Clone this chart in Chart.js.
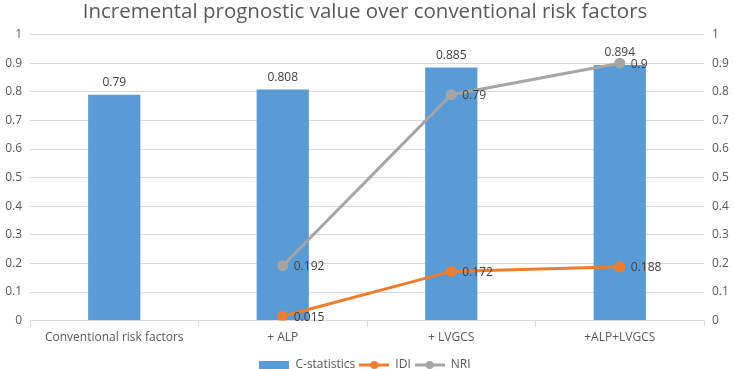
<!DOCTYPE html>
<html>
<head>
<meta charset="utf-8">
<script src="https://cdn.jsdelivr.net/npm/chart.js@4"></script>
<style>
  body { margin: 0; background: #fff; }
  #wrap { width: 734px; height: 369px; }
</style>
</head>
<body>
<div id="wrap"><canvas id="grafico"></canvas></div>
<script>
const categorias = ['Conventional risk factors', '+ ALP', '+ LVGCS', '+ALP+LVGCS'];
const cStatistics = [0.79, 0.808, 0.885, 0.894];
const idi = [null, 0.015, 0.172, 0.188];
const nri = [null, 0.192, 0.79, 0.9];

const azul = '#5b9bd5';
const laranja = '#ed7d31';
const cinza = '#a5a5a5';
const textoCor = '#595959';
const fonte = '"Open Sans", "Noto Sans", sans-serif';

// little legend icons
function icone(cor, tipo) {
    const c = document.createElement('canvas');
    c.width = 30; c.height = 10;
    const g = c.getContext('2d');
    if (tipo === 'bar') {
        g.fillStyle = cor;
        g.fillRect(0, 1, 30, 8);
    } else {
        g.strokeStyle = cor;
        g.lineWidth = 3;
        g.beginPath(); g.moveTo(0, 5); g.lineTo(30, 5); g.stroke();
        g.fillStyle = cor;
        g.beginPath(); g.arc(15, 5, 4, 0, Math.PI * 2); g.fill();
    }
    return c;
}

const rotulos = {
    id: 'rotulos',
    beforeDraw(chart) {
        // push the legend a bit further down
        if (chart.legend && !chart.legend._movido) {
            chart.legend.top += 6;
            chart.legend.bottom += 6;
            chart.legend._movido = true;
        }
    },
    afterDatasetsDraw(chart) {
        const ctx = chart.ctx;
        ctx.save();
        ctx.font = '12px ' + fonte;
        ctx.fillStyle = '#404040';
        chart.data.datasets.forEach((ds, i) => {
            const meta = chart.getDatasetMeta(i);
            meta.data.forEach((el, j) => {
                const v = ds.data[j];
                if (v === null) return;
                if (ds.type === 'line') {
                    ctx.textAlign = 'left';
                    ctx.textBaseline = 'middle';
                    ctx.fillText(String(v), el.x + 11, el.y + 1);
                } else {
                    ctx.textAlign = 'center';
                    ctx.textBaseline = 'bottom';
                    ctx.fillText(String(v), el.x, el.y - 6);
                }
            });
        });
        ctx.restore();
    }
};

const fmt = v => String(Number(v.toFixed(1)));

const ctx = document.getElementById('grafico');

new Chart(ctx, {
    data: {
        labels: categorias,
        datasets: [{
            type: 'bar',
            label: 'C-statistics',
            data: cStatistics,
            yAxisID: 'y',
            backgroundColor: azul,
            categoryPercentage: 1,
            barPercentage: 0.31,
            order: 3
        }, {
            type: 'line',
            label: 'IDI',
            data: idi,
            yAxisID: 'y1',
            borderColor: laranja,
            backgroundColor: laranja,
            borderWidth: 3,
            pointRadius: 4,
            pointHoverRadius: 4,
            order: 1
        }, {
            type: 'line',
            label: 'NRI',
            data: nri,
            yAxisID: 'y1',
            borderColor: cinza,
            backgroundColor: cinza,
            borderWidth: 3,
            pointRadius: 4,
            pointHoverRadius: 4,
            order: 2
        }]
    },
    options: {
        responsive: true,
        maintainAspectRatio: false,
        animation: false,
        layout: { padding: { left: 0, right: 4, top: 0, bottom: -6 } },
        plugins: {
            title: {
                display: true,
                text: 'Incremental prognostic value over conventional risk factors',
                color: textoCor,
                font: { family: fonte, size: 20.5, weight: 'normal' },
                padding: { top: 0, bottom: 10 }
            },
            legend: {
                display: true,
                position: 'bottom',
                labels: {
                    color: textoCor,
                    font: { family: fonte, size: 12 },
                    usePointStyle: true,
                    pointStyleWidth: 30,
                    boxHeight: 10,
                    padding: 4,
                    generateLabels(chart) {
                        return chart.data.datasets.map((ds, i) => ({
                            text: ds.label,
                            datasetIndex: i,
                            fontColor: textoCor,
                            pointStyle: icone(ds.borderColor || ds.backgroundColor, ds.type),
                            lineWidth: 0,
                            strokeStyle: 'transparent',
                            fillStyle: 'transparent'
                        }));
                    }
                }
            },
            tooltip: { enabled: false }
        },
        scales: {
            x: {
                grid: {
                    offset: true,
                    drawOnChartArea: false,
                    tickLength: 6,
                    color: '#d9d9d9'
                },
                border: { color: '#d9d9d9' },
                ticks: { color: textoCor, font: { family: fonte, size: 12 }, padding: 4 }
            },
            y: {
                position: 'left',
                min: 0,
                max: 1,
                ticks: { stepSize: 0.1, color: textoCor, font: { family: fonte, size: 12 }, padding: 8, callback: fmt },
                grid: { color: '#d9d9d9', drawTicks: false },
                border: { display: false },
                afterFit(s) { s.width = 30; }
            },
            y1: {
                position: 'right',
                min: 0,
                max: 1,
                ticks: { stepSize: 0.1, color: textoCor, font: { family: fonte, size: 12 }, padding: 8, callback: fmt },
                grid: { drawOnChartArea: false, drawTicks: false },
                border: { display: false },
                afterFit(s) { s.width = 26; }
            }
        }
    },
    plugins: [rotulos]
});
</script>
</body>
</html>
